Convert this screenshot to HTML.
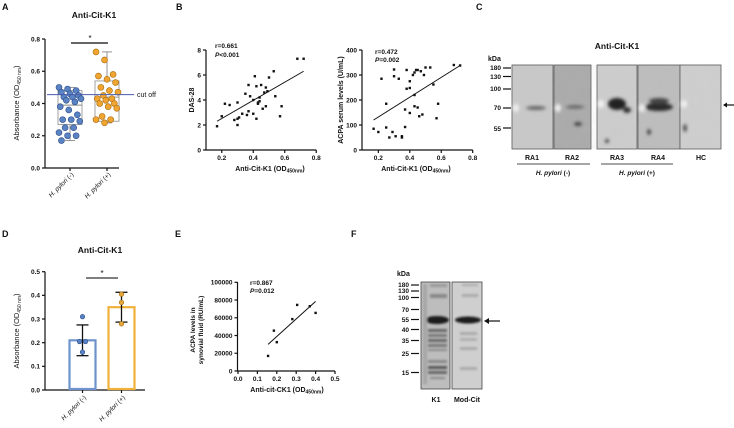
<!DOCTYPE html>
<html><head><meta charset="utf-8">
<style>
html,body{margin:0;padding:0;background:#fff;}
svg{display:block;font-family:"Liberation Sans",Arial,sans-serif;font-weight:bold;}
text{fill:#111;}
</style></head>
<body>
<svg id="fig" width="734" height="428" viewBox="0 0 734 428" xmlns="http://www.w3.org/2000/svg">
<defs>
<filter id="blur1" x="-50%" y="-50%" width="200%" height="200%"><feGaussianBlur stdDeviation="1.6"/></filter>
<filter id="blur2" x="-50%" y="-50%" width="200%" height="200%"><feGaussianBlur stdDeviation="1.0"/></filter>
<filter id="noise" x="0" y="0" width="100%" height="100%"><feTurbulence type="fractalNoise" baseFrequency="0.08" numOctaves="2" seed="3"/><feColorMatrix type="matrix" values="0 0 0 0 0.5  0 0 0 0 0.5  0 0 0 0 0.5  0 0 0 0.25 0"/></filter>
</defs>
<text x="2" y="10" font-size="9">A</text>
<text x="176" y="10" font-size="9">B</text>
<text x="476" y="10" font-size="9">C</text>
<text x="2" y="237" font-size="9">D</text>
<text x="175" y="237" font-size="9">E</text>
<text x="351" y="237" font-size="9">F</text>

<text x="94" y="18" font-size="8.5" text-anchor="middle">Anti-Cit-K1</text>
<text x="100" y="253" font-size="8.5" text-anchor="middle">Anti-Cit-K1</text>
<text x="617" y="49" font-size="8.5" text-anchor="middle">Anti-Cit-K1</text>

<text transform="translate(19,103) rotate(-90)" font-size="7.5" text-anchor="middle" font-weight="normal">Absorbance (OD<tspan font-size="5" dy="2">450 nm</tspan><tspan dy="-2">)</tspan></text>
<text transform="translate(19,331) rotate(-90)" font-size="7.5" text-anchor="middle" font-weight="normal">Absorbance (OD<tspan font-size="5" dy="2">450 nm</tspan><tspan dy="-2">)</tspan></text>
<text transform="translate(194,100) rotate(-90)" font-size="7" text-anchor="middle">DAS-28</text>
<text transform="translate(343,100) rotate(-90)" font-size="7" text-anchor="middle">ACPA serum levels (U/mL)</text>
<text x="270" y="171" font-size="7" text-anchor="middle">Anti-Cit-K1 (OD<tspan font-size="5" dy="1.5">450nm</tspan><tspan dy="-1.5">)</tspan></text>
<text x="416" y="171" font-size="7" text-anchor="middle">Anti-Cit-K1 (OD<tspan font-size="5" dy="1.5">450nm</tspan><tspan dy="-1.5">)</tspan></text>
<text transform="translate(195,330) rotate(-90)" font-size="6.5" text-anchor="middle">ACPA  levels in</text>
<text transform="translate(203,330) rotate(-90)" font-size="6.5" text-anchor="middle">synovial fluid (RU/mL)</text>
<text x="287" y="392" font-size="7" text-anchor="middle">Anti-cit-CK1 (OD<tspan font-size="5" dy="1.5">450nm</tspan><tspan dy="-1.5">)</tspan></text>

<text x="215" y="48" font-size="6.5">r=0.661</text>
<text x="215" y="57" font-size="6.5"><tspan font-style="italic">P</tspan>&lt;0.001</text>
<text x="375" y="54" font-size="6.5">r=0.472</text>
<text x="375" y="62" font-size="6.5"><tspan font-style="italic">P</tspan>=0.002</text>
<text x="250" y="285" font-size="6.5">r=0.867</text>
<text x="250" y="293" font-size="6.5"><tspan font-style="italic">P</tspan>=0.012</text>

<g>
<text x="488" y="61" font-size="7">kDa</text>
<g font-size="6.5" text-anchor="end">
<text x="501" y="70">180</text>
<text x="501" y="79">130</text>
<text x="501" y="91">100</text>
<text x="501" y="110">70</text>
<text x="501" y="131">55</text>
</g>
<g stroke="#111" stroke-width="1.2">
<line x1="503" y1="68" x2="511" y2="68"/><line x1="503" y1="76.5" x2="511" y2="76.5"/><line x1="503" y1="89" x2="511" y2="89"/><line x1="503" y1="108" x2="511" y2="108"/><line x1="503" y1="128" x2="511" y2="128"/>
</g>
<rect x="512" y="65" width="41" height="84" fill="#c9c9c9" stroke="#555" stroke-width="0.8"/>
<rect x="554" y="65" width="37" height="84" fill="#aaaaaa" stroke="#555" stroke-width="0.8"/>
<rect x="597" y="65" width="40" height="84" fill="#cdcdcd" stroke="#555" stroke-width="0.8"/>
<rect x="638" y="65" width="42" height="84" fill="#bdbdbd" stroke="#555" stroke-width="0.8"/>
<rect x="680" y="65" width="41" height="84" fill="#cfcfcf" stroke="#555" stroke-width="0.8"/>
<rect x="512" y="65" width="209" height="84" filter="url(#noise)" opacity="0.6"/>
<g filter="url(#blur1)">
<ellipse cx="516" cy="108" rx="3" ry="4" fill="#eee"/><ellipse cx="558" cy="108" rx="3" ry="4" fill="#eee"/><ellipse cx="601" cy="104" rx="3" ry="4" fill="#f3f3f3"/><ellipse cx="642" cy="108" rx="3" ry="4" fill="#eee"/><ellipse cx="684" cy="104" rx="3" ry="4" fill="#eee"/>
<ellipse cx="536" cy="108" rx="10" ry="2" fill="#666"/>
<ellipse cx="575" cy="107" rx="9" ry="1.8" fill="#666"/>
<ellipse cx="578" cy="124" rx="4" ry="2" fill="#444"/>
<ellipse cx="617" cy="104" rx="9" ry="6" fill="#222"/>
<ellipse cx="627" cy="110" rx="4" ry="3" fill="#333"/>
<ellipse cx="659" cy="107" rx="14" ry="4" fill="#2a2a2a"/>
<ellipse cx="659" cy="101" rx="10" ry="3" fill="#444"/>
<ellipse cx="649" cy="132" rx="2" ry="3" fill="#444"/>
<ellipse cx="607" cy="141" rx="2" ry="2" fill="#444"/>
<ellipse cx="685" cy="128" rx="2" ry="4" fill="#555"/>
</g>
<g font-size="7" text-anchor="middle">
<text x="532" y="160">RA1</text>
<text x="572" y="160">RA2</text>
<text x="617" y="160">RA3</text>
<text x="658" y="160">RA4</text>
<text x="701" y="160">HC</text>
</g>
<line x1="517" y1="164" x2="590" y2="164" stroke="#111" stroke-width="0.8"/>
<line x1="601" y1="164" x2="673" y2="164" stroke="#111" stroke-width="0.8"/>
<text x="553" y="175" font-size="6.5" text-anchor="middle"><tspan font-style="italic">H. pylori</tspan> (-)</text>
<text x="637" y="175" font-size="6.5" text-anchor="middle"><tspan font-style="italic">H. pylori</tspan> (+)</text>
<g><line x1="724" y1="105" x2="734" y2="105" stroke="#111" stroke-width="1.2"/><path d="M723 105 L727 102.5 L727 107.5Z" fill="#111"/></g>
</g>

<g>
<text x="397" y="276" font-size="7">kDa</text>
<g font-size="6.5" text-anchor="end">
<text x="409" y="287">180</text>
<text x="409" y="293">130</text>
<text x="409" y="300">100</text>
<text x="409" y="312">70</text>
<text x="409" y="322">55</text>
<text x="409" y="332">40</text>
<text x="409" y="343">35</text>
<text x="409" y="356">25</text>
<text x="409" y="375">15</text>
</g>
<g stroke="#111" stroke-width="1.2">
<line x1="411" y1="285" x2="419" y2="285"/><line x1="411" y1="291" x2="419" y2="291"/><line x1="411" y1="297.5" x2="419" y2="297.5"/><line x1="411" y1="309.5" x2="419" y2="309.5"/><line x1="411" y1="319.5" x2="419" y2="319.5"/><line x1="411" y1="329.5" x2="419" y2="329.5"/><line x1="411" y1="340.5" x2="419" y2="340.5"/><line x1="411" y1="353.5" x2="419" y2="353.5"/><line x1="411" y1="372.5" x2="419" y2="372.5"/>
</g>
<rect x="421" y="282" width="29" height="107" fill="#bdbdbd" stroke="#444" stroke-width="0.8"/>
<rect x="452" y="282" width="30" height="107" fill="#cfcfcf" stroke="#444" stroke-width="0.8"/>
<g filter="url(#blur2)">
<rect x="430" y="284" width="17" height="3" fill="#999"/><rect x="430" y="294" width="17" height="4" fill="#888"/>
<ellipse cx="437" cy="320" rx="12" ry="4" fill="#1a1a1a"/>
<rect x="428" y="329" width="19" height="3" fill="#666"/><rect x="428" y="334" width="19" height="3" fill="#777"/>
<rect x="428" y="339" width="19" height="3" fill="#666"/><rect x="428" y="344" width="19" height="3" fill="#777"/>
<rect x="428" y="349" width="19" height="2" fill="#888"/><rect x="428" y="360" width="19" height="3" fill="#888"/>
<rect x="428" y="366" width="19" height="3" fill="#555"/><rect x="428" y="371" width="19" height="3" fill="#666"/>
<rect x="430" y="377" width="15" height="2" fill="#888"/>
<rect x="423" y="284" width="4" height="100" fill="#a5a5a5"/>
<rect x="462" y="284" width="16" height="2" fill="#aaa"/><rect x="462" y="294" width="16" height="3" fill="#aaa"/>
<ellipse cx="468" cy="320" rx="13" ry="3.5" fill="#1a1a1a"/>
<rect x="460" y="332" width="17" height="3" fill="#aaa"/><rect x="460" y="338" width="17" height="3" fill="#b0b0b0"/>
<rect x="460" y="347" width="17" height="3" fill="#aaa"/><rect x="460" y="367" width="17" height="3" fill="#aaa"/>
</g>
<text x="436" y="402" font-size="7" text-anchor="middle">K1</text>
<text x="467" y="402" font-size="7" text-anchor="middle">Mod-Cit</text>
<g><line x1="486" y1="321" x2="500" y2="321" stroke="#111" stroke-width="1.2"/><path d="M484 321 L489 318 L489 324Z" fill="#111"/></g>
</g>
</svg>
<script>
const aCategories = ["H. pylori (-)", "H. pylori (+)"];
const aNeg = [0.50,0.49,0.48,0.47,0.46,0.45,0.44,0.44,0.43,0.42,0.41,0.38,0.36,0.33,0.30,0.30,0.29,0.25,0.25,0.22,0.20,0.20,0.17];
const aPos = [0.72,0.67,0.58,0.57,0.55,0.53,0.50,0.48,0.47,0.45,0.43,0.43,0.42,0.40,0.40,0.38,0.37,0.32,0.30,0.30,0.28];
const aBoxLow = [0.17,0.28];
const aBoxQ1 = [0.27,0.29];
const aBoxMed = [0.39,0.44];
const aBoxQ3 = [0.48,0.54];
const aBoxHigh = [0.50,0.72];
const aCutoff = 0.455;
const aTicks = [0,0.2,0.4,0.6,0.8];

const b1X = [0.17,0.20,0.22,0.25,0.28,0.30,0.30,0.31,0.30,0.33,0.35,0.36,0.37,0.37,0.38,0.40,0.41,0.40,0.42,0.42,0.43,0.43,0.44,0.44,0.45,0.46,0.47,0.48,0.48,0.49,0.50,0.53,0.54,0.57,0.58,0.68,0.72];
const b1Y = [1.9,2.7,3.7,3.6,2.4,2.0,2.5,2.6,3.8,2.9,4.5,2.8,3.1,5.2,4.3,2.9,5.9,4.0,5.1,2.5,3.7,3.8,4.2,3.9,5.2,3.3,4.6,3.5,5.0,4.7,5.8,6.3,4.3,2.7,3.5,7.3,7.3];
const b1Fit = [[0.17,2.3],[0.72,6.3]];
const b1YTicks = [0,2,4,6,8];
const bXTicks = [0.2,0.4,0.6,0.8];

const b2X = [0.17,0.20,0.22,0.25,0.25,0.27,0.29,0.30,0.30,0.31,0.33,0.35,0.35,0.37,0.37,0.38,0.38,0.40,0.40,0.40,0.42,0.43,0.43,0.43,0.44,0.45,0.45,0.46,0.47,0.48,0.49,0.50,0.53,0.55,0.57,0.58,0.68,0.72];
const b2Y = [85,72,285,185,90,50,72,322,295,55,285,55,50,162,92,320,245,275,248,148,300,310,220,175,320,320,170,135,315,142,300,330,330,262,127,185,340,338];
const b2Fit = [[0.17,120],[0.72,338]];
const b2YTicks = [0,100,200,300,400];

const dMeans = [0.21,0.35];
const dSD = [0.065,0.063];
const dNeg = [0.31,0.205,0.205,0.16];
const dPos = [0.405,0.37,0.28];
const dTicks = [0,0.1,0.2,0.3,0.4,0.5];

const eX = [0.155,0.185,0.20,0.28,0.305,0.37,0.40];
const eY = [17000,45500,32500,58500,74500,73000,65500];
const eFit = [[0.155,30000],[0.40,78500]];
const eXTicks = [0,0.1,0.2,0.3,0.4,0.5];
const eYTicks = [0,20000,40000,60000,80000,100000];

const NS = "http://www.w3.org/2000/svg";
const svg = document.getElementById('fig');
function mk(tag, attrs, parent){const e=document.createElementNS(NS,tag);for(const k in attrs)e.setAttribute(k,attrs[k]);(parent||svg).appendChild(e);return e;}
function grp(name){const g=mk('g',{});


return g;}
function fmt(v,d){return v.toFixed(d);}

function yAxis(g, x, y, ticks, dec, yTop, yBot){
  mk('line',{x1:x,y1:yTop,x2:x,y2:yBot,stroke:'#111','stroke-width':1.2},g);
  ticks.forEach(t=>{const yy=y(t);
    mk('line',{x1:x-3,y1:yy,x2:x,y2:yy,stroke:'#111','stroke-width':1.2},g);
    const tx=mk('text',{x:x-5,y:yy+2.3,'font-size':6.5,'text-anchor':'end'},g);tx.textContent=fmt(t,dec);
    
    
  });
}
function xAxis(g, y0, x, ticks, dec, xL, xR){
  mk('line',{x1:xL,y1:y0,x2:xR,y2:y0,stroke:'#111','stroke-width':1.2},g);
  ticks.forEach(t=>{const xx=x(t);
    mk('line',{x1:xx,y1:y0,x2:xx,y2:y0+3,stroke:'#111','stroke-width':1.2},g);
    const tx=mk('text',{x:xx,y:y0+10,'font-size':6.5,'text-anchor':'middle'},g);tx.textContent=fmt(t,dec);
    
    
  });
}
function catLabel(g,x,y,label){
  const parts=label.split(' (');
  const t=mk('text',{transform:`translate(${x},${y}) rotate(-45)`,'font-size':6.5,'text-anchor':'end','font-weight':'normal'},g);
  
  
  const s1=mk('tspan',{'font-style':'italic'},t);s1.textContent=parts[0];
  const s2=mk('tspan',{},t);s2.textContent=' ('+parts[1];
}
function jit(i){return ((i*7)%19)/18*22-11;}

(function(){
  const g=grp('panel-a-boxplot');
  const y=v=>168-v*161.25;
  const cx=[70,107];
  yAxis(g,45,y,aTicks,1,39,168);
  mk('line',{x1:45,y1:168,x2:119,y2:168,stroke:'#111','stroke-width':1.2},g);
  cx.forEach(c=>mk('line',{x1:c,y1:168,x2:c,y2:171,stroke:'#111','stroke-width':1.2},g));
  const cols=[['#5b83c4','#2c4f8a'],['#f0a531','#a86a0e']];
  const sets=[aNeg,aPos];
  for(let k=0;k<2;k++){
    const c=cx[k];
    const bx=mk('rect',{x:c-12,y:y(aBoxQ3[k]),width:24,height:y(aBoxQ1[k])-y(aBoxQ3[k]),fill:'none',stroke:'#999','stroke-width':0.9},g);
    
    
    mk('line',{x1:c-12,y1:y(aBoxMed[k]),x2:c+12,y2:y(aBoxMed[k]),stroke:'#888','stroke-width':0.9},g);
    mk('line',{x1:c,y1:y(aBoxQ3[k]),x2:c,y2:y(aBoxHigh[k]),stroke:'#888','stroke-width':0.9},g);
    mk('line',{x1:c,y1:y(aBoxQ1[k]),x2:c,y2:y(aBoxLow[k]),stroke:'#888','stroke-width':0.9},g);
    mk('line',{x1:c-5,y1:y(aBoxHigh[k]),x2:c+5,y2:y(aBoxHigh[k]),stroke:'#888','stroke-width':0.9},g);
    mk('line',{x1:c-5,y1:y(aBoxLow[k]),x2:c+5,y2:y(aBoxLow[k]),stroke:'#888','stroke-width':0.9},g);
    sets[k].forEach((v,i)=>{
      const d=mk('circle',{cx:c+jit(i),cy:y(v),r:3,fill:cols[k][0],stroke:cols[k][1],'stroke-width':0.6},g);
      
      
    });
    catLabel(g,c+4,175,aCategories[k]);
  }
  const cl=mk('line',{x1:47,y1:y(aCutoff),x2:134,y2:y(aCutoff),stroke:'#4a5cae','stroke-width':0.9},g);
  
  
  const ct=mk('text',{x:137,y:y(aCutoff)+2.5,'font-size':7,'font-weight':'normal'},g);ct.textContent='cut off';
  
  
  mk('line',{x1:71,y1:43,x2:108,y2:43,stroke:'#333','stroke-width':1.4},g);
  const st=mk('text',{x:90,y:41,'font-size':8,'text-anchor':'middle','font-weight':'normal'},g);st.textContent='*';
  
  
})();

function scatter(name, xs, ys, fit, xf, yf, yticks, ydec, ax, yTop){
  const g=grp(name);
  yAxis(g,ax,yf,yticks,ydec,yTop,150);
  xAxis(g,150,xf,bXTicks,1,ax,xf(0.8));
  xs.forEach((v,i)=>{
    const p=mk('rect',{x:xf(v)-1.2,y:yf(ys[i])-1.2,width:2.4,height:2.4,fill:'#111'},g);
    
    
  });
  const l=mk('line',{x1:xf(fit[0][0]),y1:yf(fit[0][1]),x2:xf(fit[1][0]),y2:yf(fit[1][1]),stroke:'#111','stroke-width':1},g);
  
  
}
scatter('panel-b-das28-scatter',b1X,b1Y,b1Fit,v=>206+(v-0.1)*157.5,v=>150-v*12.5,b1YTicks,0,206,50);
scatter('panel-b-acpa-scatter',b2X,b2Y,b2Fit,v=>362.6+(v-0.1)*157.3,v=>150-v*0.25,b2YTicks,0,362,50);

(function(){
  const g=grp('panel-d-bar-chart');
  const y=v=>390-v*236.6;
  const cx=[82.5,121.5];
  yAxis(g,45,y,dTicks,1,271.7,390);
  mk('line',{x1:45,y1:390,x2:145,y2:390,stroke:'#111','stroke-width':1.2},g);
  cx.forEach(c=>mk('line',{x1:c,y1:390,x2:c,y2:393,stroke:'#111','stroke-width':1.2},g));
  const cols=[['#6f93cc','#5b83c4','#2c4f8a'],['#f0b03a','#e4a73a','#a86a0e']];
  const sets=[dNeg,dPos];
  for(let k=0;k<2;k++){
    const c=cx[k];
    const b=mk('rect',{x:c-13,y:y(dMeans[k]),width:26,height:390-y(dMeans[k])-1,fill:'none',stroke:cols[k][0],'stroke-width':2.2},g);
    
    
    const hi=y(dMeans[k]+dSD[k]), lo=y(dMeans[k]-dSD[k]);
    mk('line',{x1:c,y1:hi,x2:c,y2:lo,stroke:'#111','stroke-width':1.3},g);
    mk('line',{x1:c-6,y1:hi,x2:c+6,y2:hi,stroke:'#111','stroke-width':1.3},g);
    mk('line',{x1:c-6,y1:lo,x2:c+6,y2:lo,stroke:'#111','stroke-width':1.3},g);
    sets[k].forEach((v,i)=>{
      const off=sets[k].length===4?[0,-3,3,0][i]:0;
      const d=mk('circle',{cx:c+off,cy:y(v),r:2.3,fill:cols[k][1],stroke:cols[k][2],'stroke-width':0.6},g);
      
      
    });
    catLabel(g,c+4,398,aCategories[k]);
  }
  mk('line',{x1:86,y1:278,x2:118,y2:278,stroke:'#333','stroke-width':1.2},g);
  const st=mk('text',{x:102,y:276,'font-size':8,'text-anchor':'middle','font-weight':'normal'},g);st.textContent='*';
  
  
})();

(function(){
  const g=grp('panel-e-scatter');
  const x=v=>238+v*194, y=v=>371-v*0.000887;
  yAxis(g,237.5,y,eYTicks,0,282,371);
  xAxis(g,371,x,eXTicks,1,237.5,x(0.5));
  eX.forEach((v,i)=>{
    const p=mk('rect',{x:x(v)-1.2,y:y(eY[i])-1.2,width:2.4,height:2.4,fill:'#111'},g);
    
    
  });
  const l=mk('line',{x1:x(eFit[0][0]),y1:y(eFit[0][1]),x2:x(eFit[1][0]),y2:y(eFit[1][1]),stroke:'#111','stroke-width':1},g);
  
  
})();
</script>
</body></html>
